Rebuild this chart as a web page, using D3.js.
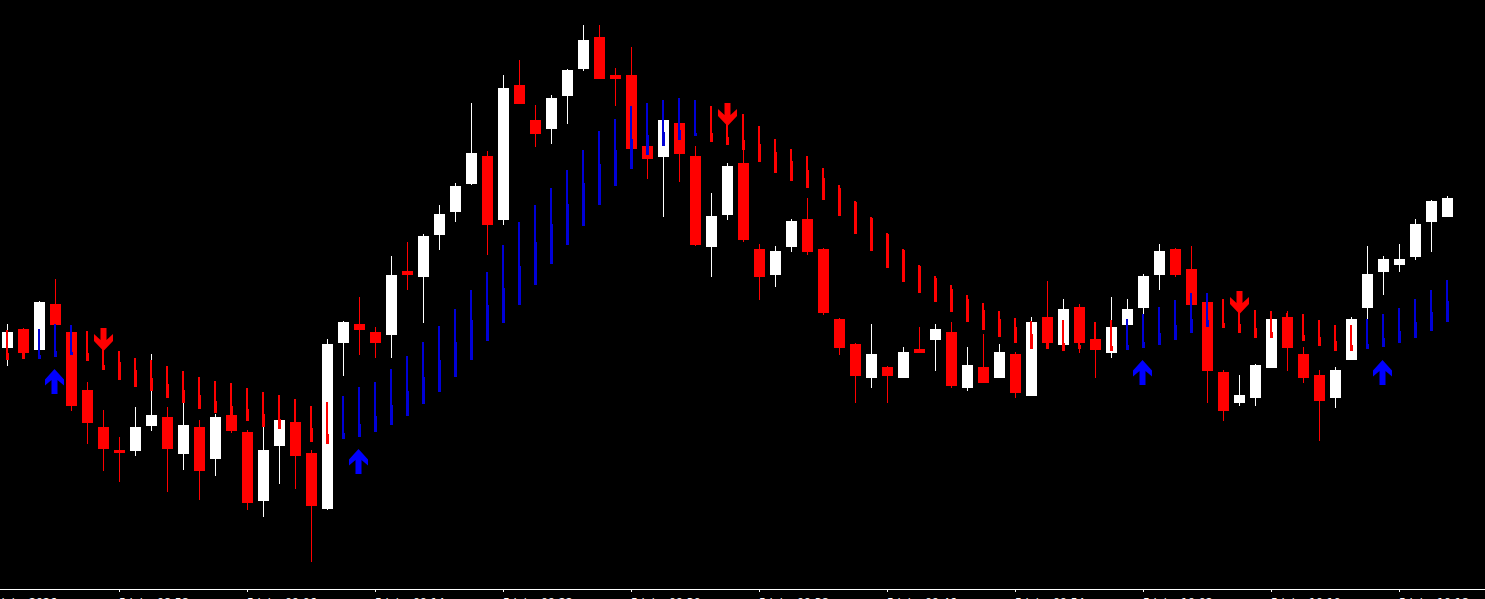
<!DOCTYPE html>
<html><head><meta charset="utf-8">
<script src="https://cdn.jsdelivr.net/npm/d3@7"></script>
<style>html,body{margin:0;padding:0;background:#000;overflow:hidden}</style>
</head><body><svg id="c" width="1485" height="599"></svg>
<script>
// ---- candle data (M1 bars) ----
const open = [1.08652,1.08671,1.08650,1.08696,1.08668,1.08610,1.08573,1.08550,1.08549,1.08574,
1.08583,1.08546,1.08573,1.08541,1.08585,1.08568,1.08499,1.08554,1.08578,1.08547,
1.08491,1.08657,1.08676,1.08668,1.08665,1.08729,1.08723,1.08765,1.08788,1.08816,
1.08844,1.08780,1.08915,1.08880,1.08871,1.08904,1.08931,1.08963,1.08925,1.08925,
1.08854,1.08843,1.08877,1.08844,1.08753,1.08785,1.08837,1.08751,1.08725,1.08753,
1.08781,1.08751,1.08681,1.08656,1.08622,1.08633,1.08622,1.08651,1.08660,1.08668,
1.08612,1.08633,1.08622,1.08646,1.08604,1.08683,1.08655,1.08693,1.08661,1.08647,
1.08675,1.08692,1.08725,1.08751,1.08731,1.08698,1.08628,1.08597,1.08602,1.08632,
1.08683,1.08646,1.08625,1.08602,1.08640,1.08692,1.08728,1.08735,1.08743,1.08778,
1.08783];
const high = [1.08676,1.08672,1.08699,1.08721,1.08669,1.08618,1.08590,1.08563,1.08593,1.08646,
1.08593,1.08597,1.08580,1.08586,1.08587,1.08570,1.08573,1.08582,1.08601,1.08550,
1.08661,1.08679,1.08703,1.08673,1.08744,1.08758,1.08766,1.08795,1.08817,1.08897,
1.08849,1.08925,1.08940,1.08895,1.08905,1.08931,1.08975,1.08975,1.08932,1.08953,
1.08860,1.08882,1.08880,1.08854,1.08807,1.08837,1.08850,1.08756,1.08754,1.08781,
1.08802,1.08752,1.08682,1.08657,1.08676,1.08634,1.08653,1.08673,1.08676,1.08678,
1.08653,1.08666,1.08656,1.08648,1.08683,1.08719,1.08701,1.08696,1.08678,1.08703,
1.08701,1.08726,1.08756,1.08752,1.08754,1.08699,1.08630,1.08625,1.08636,1.08682,
1.08689,1.08653,1.08630,1.08633,1.08683,1.08754,1.08744,1.08756,1.08781,1.08800,
1.08804];
const low = [1.08634,1.08646,1.08649,1.08674,1.08589,1.08556,1.08529,1.08518,1.08544,1.08569,
1.08508,1.08530,1.08500,1.08524,1.08567,1.08490,1.08483,1.08516,1.08511,1.08438,
1.08490,1.08624,1.08645,1.08642,1.08642,1.08710,1.08677,1.08750,1.08778,1.08815,
1.08745,1.08775,1.08896,1.08853,1.08856,1.08876,1.08929,1.08921,1.08894,1.08851,
1.08821,1.08783,1.08818,1.08754,1.08723,1.08780,1.08758,1.08700,1.08713,1.08748,
1.08745,1.08685,1.08645,1.08597,1.08612,1.08597,1.08622,1.08647,1.08629,1.08612,
1.08609,1.08617,1.08622,1.08602,1.08604,1.08651,1.08655,1.08647,1.08622,1.08642,
1.08675,1.08686,1.08710,1.08723,1.08695,1.08597,1.08579,1.08594,1.08594,1.08632,
1.08629,1.08617,1.08559,1.08592,1.08640,1.08681,1.08705,1.08728,1.08740,1.08748,
1.08783];
const close = [1.08668,1.08647,1.08698,1.08675,1.08594,1.08577,1.08551,1.08547,1.08573,1.08585,
1.08551,1.08575,1.08529,1.08583,1.08569,1.08497,1.08550,1.08580,1.08544,1.08494,
1.08656,1.08678,1.08670,1.08657,1.08725,1.08725,1.08764,1.08786,1.08814,1.08847,
1.08775,1.08912,1.08896,1.08866,1.08902,1.08930,1.08960,1.08921,1.08921,1.08851,
1.08841,1.08880,1.08846,1.08755,1.08784,1.08834,1.08760,1.08723,1.08749,1.08779,
1.08748,1.08687,1.08652,1.08624,1.08646,1.08624,1.08648,1.08647,1.08671,1.08614,
1.08635,1.08617,1.08648,1.08607,1.08678,1.08657,1.08691,1.08657,1.08650,1.08673,
1.08691,1.08724,1.08749,1.08725,1.08695,1.08629,1.08589,1.08605,1.08635,1.08681,
1.08652,1.08622,1.08599,1.08630,1.08681,1.08726,1.08741,1.08741,1.08776,1.08799,
1.08802];

// ---- trend indicator buffers ----
const trendTop = [1.08670,1.08669,1.08671,1.08676,1.08675,1.08669,1.08660,1.08649,1.08642,1.08640,
1.08634,1.08629,1.08623,1.08619,1.08617,1.08612,1.08608,1.08605,1.08601,1.08594,
1.08598,1.08604,1.08613,1.08618,1.08631,1.08644,1.08658,1.08674,1.08691,1.08710,
1.08728,1.08755,1.08778,1.08795,1.08812,1.08830,1.08850,1.08869,1.08881,1.08894,
1.08897,1.08900,1.08902,1.08900,1.08894,1.08890,1.08886,1.08874,1.08861,1.08851,
1.08844,1.08832,1.08815,1.08799,1.08783,1.08767,1.08751,1.08735,1.08724,1.08715,
1.08705,1.08697,1.08689,1.08682,1.08679,1.08677,1.08680,1.08680,1.08678,1.08680,
1.08681,1.08686,1.08693,1.08700,1.08707,1.08707,1.08701,1.08705,1.08690,1.08689,
1.08687,1.08686,1.08680,1.08675,1.08675,1.08681,1.08686,1.08692,1.08701,1.08710,
1.08720];
const trendMid = [1.08647,1.08648,1.08645,1.08649,1.08648,1.08647,1.08635,1.08638,1.08630,1.08622,
1.08616,1.08610,1.08605,1.08599,1.08594,1.08591,1.08586,1.08581,1.08575,1.08572,
1.08566,1.08567,1.08576,1.08584,1.08595,1.08609,1.08623,1.08640,1.08658,1.08680,
1.08695,1.08712,1.08734,1.08758,1.08776,1.08796,1.08817,1.08836,1.08850,1.08861,
1.08865,1.08868,1.08870,1.08867,1.08867,1.08863,1.08860,1.08856,1.08848,1.08839,
1.08830,1.08822,1.08812,1.08798,1.08782,1.08766,1.08750,1.08734,1.08722,1.08711,
1.08701,1.08690,1.08681,1.08673,1.08666,1.08660,1.08657,1.08655,1.08655,1.08654,
1.08655,1.08658,1.08667,1.08675,1.08681,1.08680,1.08677,1.08676,1.08672,1.08668,
1.08668,1.08665,1.08663,1.08659,1.08655,1.08656,1.08662,1.08669,1.08678,1.08688,
1.08699];
const trendBottom = [1.08640,1.08641,1.08641,1.08643,1.08645,1.08639,1.08630,1.08620,1.08613,1.08609,
1.08602,1.08597,1.08591,1.08587,1.08584,1.08579,1.08573,1.08571,1.08567,1.08558,
1.08556,1.08561,1.08563,1.08568,1.08575,1.08584,1.08596,1.08608,1.08623,1.08640,
1.08659,1.08677,1.08695,1.08715,1.08736,1.08755,1.08774,1.08795,1.08814,1.08831,
1.08845,1.08854,1.08860,1.08864,1.08858,1.08855,1.08850,1.08838,1.08827,1.08819,
1.08812,1.08800,1.08784,1.08766,1.08749,1.08732,1.08718,1.08707,1.08698,1.08688,
1.08678,1.08670,1.08663,1.08657,1.08651,1.08651,1.08649,1.08651,1.08650,1.08649,
1.08650,1.08652,1.08655,1.08660,1.08667,1.08673,1.08672,1.08667,1.08662,1.08662,
1.08661,1.08659,1.08654,1.08649,1.08649,1.08651,1.08653,1.08657,1.08662,1.08669,
1.08678];
const trendDir = [-1,-1,1,1,1,-1,-1,-1,-1,-1,
-1,-1,-1,-1,-1,-1,-1,-1,-1,-1,
-1,1,1,1,1,1,1,1,1,1,
1,1,1,1,1,1,1,1,1,1,
1,1,1,1,-1,-1,-1,-1,-1,-1,
-1,-1,-1,-1,-1,-1,-1,-1,-1,-1,
-1,-1,-1,-1,-1,-1,-1,-1,-1,-1,
1,1,1,1,1,1,-1,-1,-1,-1,
-1,-1,-1,-1,-1,1,1,1,1,1,
1];

// ---- signal arrows ----
const upArrowBars = [3, 22, 71, 86];
const upArrowPrice = [1.08631, 1.08551, 1.08640, 1.08640];
const downArrowBars = [6, 45, 77];
const downArrowPrice = [1.08672, 1.08897, 1.08709];

// ---- time axis labels ----
const tickBars = [-1, 7, 15, 23, 31, 39, 47, 55, 63, 71, 79, 87];
const tickDates = ["5 Jul","5 Jul","5 Jul","5 Jul","5 Jul","5 Jul","5 Jul","5 Jul","5 Jul","5 Jul","5 Jul","5 Jul"];
const tickTimes = ["2026","08:58","09:06","09:14","09:22","09:30","09:38","09:46","09:54","10:02","10:10","10:18"];

// ---- drawing ----
const W = 1485, H = 599;
const svg = d3.select('#c');
svg.append('rect').attr('width', W).attr('height', H).attr('fill', '#000');

const x = d3.scaleLinear().domain([0, 90]).range([7.5, 1447.5]);
const y = d3.scaleLinear().domain([1.084, 1.090]).range([600, 0]);

const bars = open.map((o, i) => ({i, o, h: high[i], l: low[i], c: close[i]}));
const UP = '#ffffff', DN = '#ff0000';

const g = svg.append('g').attr('shape-rendering', 'crispEdges');
g.selectAll('rect.wick').data(bars).join('rect').attr('class', 'wick')
  .attr('x', d => x(d.i) - 0.5).attr('width', 1)
  .attr('y', d => y(d.h)).attr('height', d => Math.max(1, y(d.l) - y(d.h)))
  .attr('fill', d => d.c >= d.o ? UP : DN);
g.selectAll('rect.body').data(bars).join('rect').attr('class', 'body')
  .attr('x', d => x(d.i) - 5.5).attr('width', 11)
  .attr('y', d => y(Math.max(d.o, d.c)))
  .attr('height', d => Math.max(2, Math.abs(y(d.o) - y(d.c))))
  .attr('fill', d => d.c >= d.o ? UP : DN);

const trend = trendTop.map((t, i) => ({i, t, m: trendMid[i], b: trendBottom[i], dir: trendDir[i]}));
const BLUE_BAR = '#0000d8', RED_BAR = '#ff0000';
g.selectAll('rect.tline').data(trend).join('rect').attr('class', 'tline')
  .attr('x', d => x(d.i) - 1.5).attr('width', 2)
  .attr('y', d => y(d.t)).attr('height', d => y(d.b) - y(d.t))
  .attr('fill', d => d.dir > 0 ? BLUE_BAR : RED_BAR);
g.selectAll('rect.ttab').data(trend).join('rect').attr('class', 'ttab')
  .attr('x', d => x(d.i) + 0.5).attr('width', 1)
  .attr('y', d => y(d.m)).attr('height', d => y(d.b) - y(d.m))
  .attr('fill', d => d.dir > 0 ? BLUE_BAR : RED_BAR);

const upPath = 'M0,0 L9.5,10.5 L9.5,16.5 L3,11 L3,25 L-3,25 L-3,11 L-9.5,16.5 L-9.5,10.5 Z';
const dnPath = 'M-3,0 L3,0 L3,12 L9.5,6 L9.5,13 L0,23 L-9.5,13 L-9.5,6 L-3,12 Z';
svg.selectAll('path.up').data(upArrowBars.map((b, k) => ({b, p: upArrowPrice[k]})))
  .join('path').attr('class', 'up').attr('d', upPath).attr('fill', '#0000ff')
  .attr('transform', d => `translate(${x(d.b) - 1},${y(d.p)})`);
svg.selectAll('path.dn').data(downArrowBars.map((b, k) => ({b, p: downArrowPrice[k]})))
  .join('path').attr('class', 'dn').attr('d', dnPath).attr('fill', '#ff0000')
  .attr('transform', d => `translate(${x(d.b)},${y(d.p)})`);

// axis
svg.append('rect').attr('x', 0).attr('y', 589).attr('width', W).attr('height', 1).attr('fill', '#fff');
const axis = d3.axisBottom(x).tickValues(tickBars).tickSize(2).tickSizeOuter(0).tickFormat(() => '');
const ag = svg.append('g').attr('transform', 'translate(0,590)').attr('shape-rendering', 'crispEdges').call(axis);
ag.select('.domain').remove();
ag.selectAll('.tick line').attr('stroke', '#fff').attr('x1', -0.5).attr('x2', -0.5);
ag.selectAll('.tick').each(function(d, k) {
  const t = d3.select(this).select('text');
  t.text(null).attr('x', -1).attr('y', 16).attr('dy', null)
    .attr('text-anchor', 'start').attr('fill', '#fff')
    .attr('font-family', 'DejaVu Sans').attr('font-size', 11);
  t.append('tspan').text(tickDates[k]);
  t.append('tspan').attr('x', 37).text(tickTimes[k]);
});
</script></body></html>
